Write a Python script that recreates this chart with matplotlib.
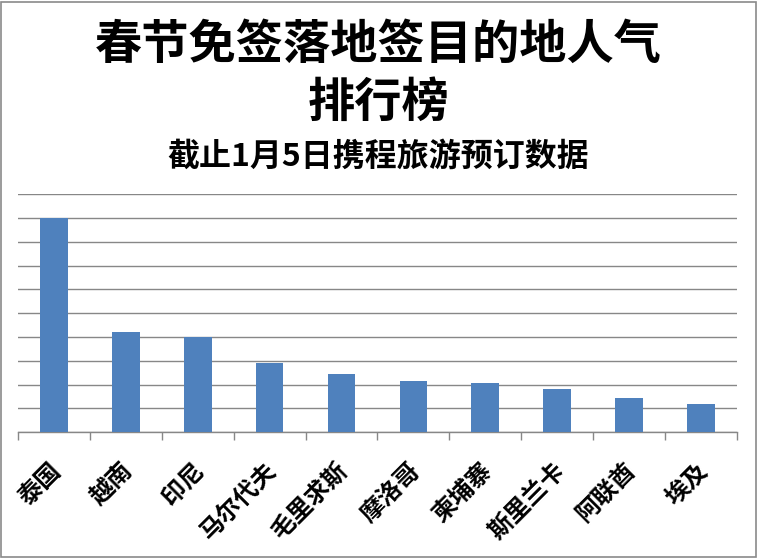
import matplotlib
matplotlib.use("Agg")
import matplotlib.pyplot as plt
import matplotlib.transforms as mtransforms
from matplotlib.patches import Rectangle
import numpy as np

plt.rcParams["font.family"] = ["Noto Sans CJK SC", "DejaVu Sans"]

# 数据（从图上估读，无纵轴刻度）
countries = ["泰国", "越南", "印尼", "马尔代夫", "毛里求斯",
             "摩洛哥", "柬埔寨", "斯里兰卡", "阿联酋", "埃及"]
values = [9.0, 4.2, 4.0, 2.9, 2.45, 2.15, 2.07, 1.8, 1.45, 1.2]

title_line1 = "春节免签落地签目的地人气"
title_line2 = "排行榜"
subtitle = "截止1月5日携程旅游预订数据"

bar_color = "#4F81BD"
grid_color = "#878787"

fig = plt.figure(figsize=(7.58, 5.59), dpi=100)
ax = fig.add_axes([0.0237, 0.2267, 0.9486, 0.4257])

x = np.arange(len(countries))
ax.bar(x, values, width=0.385, color=bar_color, zorder=3)

ax.set_xlim(-0.5, len(countries) - 0.5)
ax.set_ylim(0, 10)
ax.set_yticks(np.arange(0, 11, 1))
ax.yaxis.grid(True, color=grid_color, linewidth=1.0, zorder=0)
ax.tick_params(axis="y", length=0, labelleft=False)

for s in ["top", "right", "left"]:
    ax.spines[s].set_visible(False)
ax.spines["bottom"].set_color(grid_color)
ax.spines["bottom"].set_linewidth(1.0)

# 分类边界的刻度线
ax.set_xticks(np.arange(-0.5, len(countries), 1.0))
ax.tick_params(axis="x", which="major", length=6, color=grid_color,
               width=1.0, labelbottom=False)
# 分类标签放在次刻度上
ax.set_xticks(x, minor=True)
ax.set_xticklabels(countries, minor=True, rotation=45, ha="right",
                   va="top", rotation_mode="anchor", fontsize=17.5,
                   fontweight="bold")
ax.tick_params(axis="x", which="minor", length=0, pad=19)
offset = mtransforms.ScaledTranslation(-5 / 100, 0, fig.dpi_scale_trans)
for lab in ax.get_xticklabels(minor=True):
    lab.set_transform(lab.get_transform() + offset)

fig.text(0.4993, 0.9195, title_line1, ha="center", va="center",
         fontsize=34, fontweight="bold")
fig.text(0.4993, 0.8157, title_line2, ha="center", va="center",
         fontsize=34, fontweight="bold")
fig.text(0.4987, 0.719, subtitle, ha="center", va="center",
         fontsize=23, fontweight="bold")

fig.patches.append(Rectangle((0.0015, 0.004), 0.9955, 0.993,
                             transform=fig.transFigure, fill=False,
                             edgecolor="#8a8a8a", linewidth=1.2))

fig.savefig("out.png", dpi=100)
